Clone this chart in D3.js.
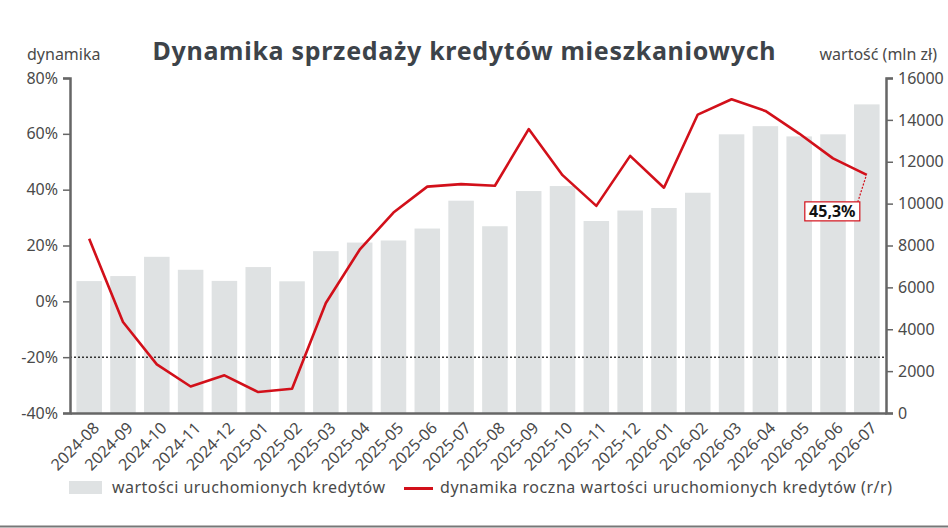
<!DOCTYPE html>
<html>
<head>
<meta charset="utf-8">
<script src="https://cdn.jsdelivr.net/npm/d3@7"></script>
<style>
  body { margin: 0; background: #fff; }
  svg { display: block; font-family: 'Noto Sans', Roboto, sans-serif; }
  .tick text { fill: #4a4a4a; }
</style>
</head>
<body>
<div id="chart"></div>
<script>
// data
const months = [
  '2024-08', '2024-09', '2024-10', '2024-11', '2024-12', '2025-01',
  '2025-02', '2025-03', '2025-04', '2025-05', '2025-06', '2025-07',
  '2025-08', '2025-09', '2025-10', '2025-11', '2025-12', '2026-01',
  '2026-02', '2026-03', '2026-04', '2026-05', '2026-06', '2026-07',
];
const values = [
  6300, 6540, 7460, 6840, 6310, 6970, 6290, 7730, 8140, 8240, 8810, 10140,
  8920, 10600, 10840, 9170, 9670, 9790, 10520, 13310, 13700, 13210, 13310, 14740,
];
const growth = [
  22.4, -7.4, -22.6, -30.5, -26.5, -32.5, -31.3, -0.6, 18.5, 31.8, 41.1, 42.0,
  41.4, 61.7, 45.2, 34.2, 52.1, 40.7, 66.9, 72.4, 68.2, 60.1, 51.2, 45.3,
];
const pctTicks = [-40, -20, 0, 20, 40, 60, 80];
const valTicks = [0, 2000, 4000, 6000, 8000, 10000, 12000, 14000, 16000];
const refLine = -20;
const lastLabel = '45,3%';

const width = 948;
const height = 528;
const margin = { t: 78, r: 62, b: 115, l: 70 };
const innerW = width - margin.l - margin.r;
const innerH = height - margin.t - margin.b;

const svg = d3.select('#chart')
  .append('svg')
  .attr('width', width)
  .attr('height', height);

const g = svg.append('g')
  .attr('transform', `translate(${margin.l}, ${margin.t})`);

const x = d3.scaleBand(months, [0, innerW]).paddingInner(0.245).paddingOuter(0.19);
const yL = d3.scaleLinear().domain([-40, 80]).range([innerH, 0]);
const yR = d3.scaleLinear().domain([0, 16000]).range([innerH, 0]);

// bars
g.selectAll('.bar')
  .data(values)
  .join('rect')
  .attr('class', 'bar')
  .attr('x', (d, i) => x(months[i]))
  .attr('y', (d) => yR(d))
  .attr('width', x.bandwidth())
  .attr('height', (d) => innerH - yR(d))
  .attr('fill', '#dfe2e3');

// -20% reference
g.append('line')
  .attr('x1', 0)
  .attr('x2', innerW)
  .attr('y1', yL(refLine))
  .attr('y2', yL(refLine))
  .attr('stroke', '#333')
  .attr('stroke-width', 1.5)
  .attr('stroke-dasharray', '2,2');

// axes
const axisL = g.append('g')
  .call(d3.axisLeft(yL).tickValues(pctTicks).tickSize(7).tickPadding(5).tickFormat((d) => `${d}%`));
const axisR = g.append('g')
  .attr('transform', `translate(${innerW}, 0)`)
  .call(d3.axisRight(yR).tickValues(valTicks).tickSize(7).tickPadding(5).tickFormat(d3.format('d')));
[axisL, axisR].forEach((a) => {
  a.attr('font-family', null).attr('font-size', null);
  a.select('.domain').attr('stroke', '#666').attr('stroke-width', 2.5);
  a.selectAll('.tick line').attr('stroke', '#666').attr('stroke-width', 1.5);
  a.selectAll('.tick text').style('font-size', '16px');
});

const axisB = g.append('g')
  .attr('transform', `translate(0, ${innerH})`)
  .call(d3.axisBottom(x).tickSize(0).tickPadding(0));
axisB.attr('font-family', null).attr('font-size', null);
axisB.select('.domain').attr('stroke', '#666').attr('stroke-width', 2.5);
axisB.selectAll('.tick text')
  .style('font-size', '16px')
  .attr('text-anchor', 'end')
  .attr('dy', 0)
  .attr('transform', 'translate(11, 16) rotate(-45)');

// line
const line = d3.line()
  .x((d, i) => x(months[i]) + x.bandwidth() / 2)
  .y((d) => yL(d));

g.append('path')
  .datum(growth)
  .attr('d', line)
  .attr('fill', 'none')
  .attr('stroke', '#d2101a')
  .attr('stroke-width', 2.6)
  .attr('stroke-linejoin', 'round');

// last value label
const lastX = x(months[months.length - 1]) + x.bandwidth() / 2;
const lastY = yL(growth[growth.length - 1]);
const boxW = 55;
const boxH = 19;
const boxX = lastX - 62;
const boxY = lastY + 27;
g.append('line')
  .attr('x1', lastX - 1)
  .attr('y1', lastY + 2)
  .attr('x2', lastX - 9)
  .attr('y2', boxY)
  .attr('stroke', '#d2101a')
  .attr('stroke-width', 1.2)
  .attr('stroke-dasharray', '2,1.5');
g.append('rect')
  .attr('x', boxX)
  .attr('y', boxY)
  .attr('width', boxW)
  .attr('height', boxH)
  .attr('fill', '#fff')
  .attr('stroke', '#d2101a')
  .attr('stroke-width', 1.2);
g.append('text')
  .attr('x', boxX + boxW / 2)
  .attr('y', boxY + boxH - 3.5)
  .attr('text-anchor', 'middle')
  .style('font-size', '16px')
  .style('font-weight', 'bold')
  .attr('fill', '#111')
  .text(lastLabel);

// titles
svg.append('text')
  .attr('x', 464)
  .attr('y', 60)
  .attr('text-anchor', 'middle')
  .style('font-size', '25px')
  .style('font-weight', 'bold')
  .attr('fill', '#3d4349')
  .attr('textLength', 623)
  .text('Dynamika sprzedaży kredytów mieszkaniowych');
svg.append('text')
  .attr('x', 27)
  .attr('y', 60)
  .style('font-size', '16px')
  .attr('fill', '#4a4a4a')
  .text('dynamika');
svg.append('text')
  .attr('x', 937)
  .attr('y', 60)
  .attr('text-anchor', 'end')
  .style('font-size', '16px')
  .attr('fill', '#4a4a4a')
  .text('wartość (mln zł)');

// legend
const legend = svg.append('g');
legend.append('rect')
  .attr('x', 69)
  .attr('y', 481)
  .attr('width', 33)
  .attr('height', 13)
  .attr('fill', '#dfe2e3');
legend.append('text')
  .attr('x', 112)
  .attr('y', 493)
  .style('font-size', '16px')
  .attr('fill', '#4a4a4a')
  .attr('textLength', 273)
  .text('wartości uruchomionych kredytów');
legend.append('line')
  .attr('x1', 404)
  .attr('x2', 433)
  .attr('y1', 488.5)
  .attr('y2', 488.5)
  .attr('stroke', '#d2101a')
  .attr('stroke-width', 3);
legend.append('text')
  .attr('x', 440)
  .attr('y', 493)
  .style('font-size', '16px')
  .attr('fill', '#4a4a4a')
  .attr('textLength', 452)
  .text('dynamika roczna wartości uruchomionych kredytów (r/r)');

// bottom border
svg.append('line')
  .attr('x1', 0)
  .attr('x2', width)
  .attr('y1', 526.5)
  .attr('y2', 526.5)
  .attr('stroke', '#777')
  .attr('stroke-width', 2);
</script>
</body>
</html>
